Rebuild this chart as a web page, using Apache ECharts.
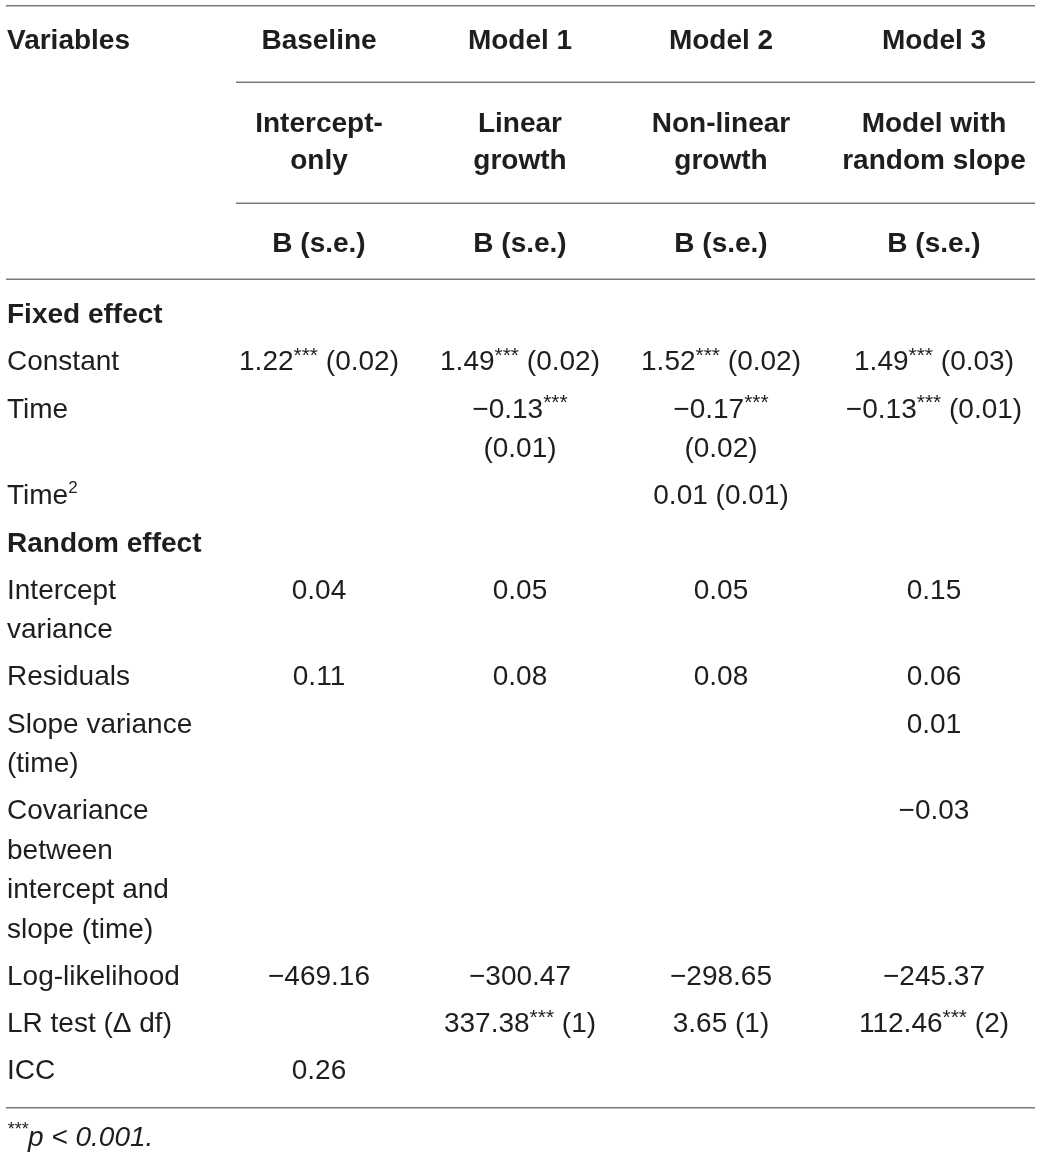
<!DOCTYPE html>
<html>

<head>
  <meta charset="utf-8">
  <title>ECharts</title>
  <script src="https://cdn.jsdelivr.net/npm/echarts@6/dist/echarts.min.js"></script>
  <style>
    html, body { margin: 0; padding: 0; background: #fff; }
  </style>
</head>

<body>
  <div id="main" style="width: 1040px;height:1156px;"></div>
  <script type="text/javascript">
    // table content
    var firstHeader = 'Variables';
    var models = ['Baseline', 'Model 1', 'Model 2', 'Model 3'];
    var modelTypes = ['Intercept-\nonly', 'Linear\ngrowth', 'Non-linear\ngrowth', 'Model with\nrandom slope'];
    var estimateHeader = 'B (s.e.)';
    var rowLabels = ['Fixed effect', 'Constant', 'Time', 'Time²', 'Random effect', 'Intercept\nvariance', 'Residuals',
      'Slope variance\n(time)', 'Covariance\nbetween\nintercept and\nslope (time)', 'Log-likelihood', 'LR test (Δ df)', 'ICC'];
    var sectionRows = ['Fixed effect', 'Random effect'];
    var baseline = ['', '1.22*** (0.02)', '', '', '', '0.04', '0.11', '', '', '−469.16', '', '0.26'];
    var model1 = ['', '1.49*** (0.02)', '−0.13***\n(0.01)', '', '', '0.05', '0.08', '', '', '−300.47', '337.38*** (1)', ''];
    var model2 = ['', '1.52*** (0.02)', '−0.17***\n(0.02)', '0.01 (0.01)', '', '0.05', '0.08', '', '', '−298.65', '3.65 (1)', ''];
    var model3 = ['', '1.49*** (0.03)', '−0.13*** (0.01)', '', '', '0.15', '0.06', '0.01', '−0.03', '−245.37', '112.46*** (2)', ''];
    var footnote = '***p < 0.001.';

    // layout
    var colX = [7, 319, 520, 721, 934];
    var headY = 41, typeY = 124, typeLineH = 37.5, estY = 244;
    var bodyTop = 315.5, lineH = 39.5, rowGap = 47.2;
    var footY = 1138;
    var rules = [[6, 1035, 5.7], [236, 1035, 82.3], [236, 1035, 203.3], [6, 1035, 279.3], [6, 1035, 1107.7]];

    var myChart = echarts.init(document.getElementById('main'));

    function richify(s) {
      return s.replace(/\*\*\*/g, '{ast|***}').replace(/²/g, '{sq|2}');
    }

    var textColor = '#1e1e1e';
    var font = 'Liberation Sans';
    var rich = {
      ast: { fontFamily: font, fontSize: 21, lineHeight: 32, verticalAlign: 'top', color: textColor },
      sq: { fontFamily: font, fontSize: 17, lineHeight: 27, verticalAlign: 'top', color: textColor },
      fast: { fontFamily: font, fontSize: 18, lineHeight: 24, verticalAlign: 'top', color: textColor }
    };

    // y of each body row from its line count
    var columns = [rowLabels, baseline, model1, model2, model3];
    var rowY = [];
    var y = bodyTop;
    for (var i = 0; i < rowLabels.length; i++) {
      rowY.push(y);
      var n = 1;
      for (var c = 0; c < columns.length; c++) {
        n = Math.max(n, columns[c][i].split('\n').length);
      }
      y += (n - 1) * lineH + rowGap;
    }

    function cellLines(text, x, y0, step, extra) {
      var out = [];
      if (!text) return out;
      text.split('\n').forEach(function(line, k) {
        var item = { name: line, value: [x, y0 + k * step] };
        if (extra) item.label = extra;
        out.push(item);
      });
      return out;
    }

    function textSeries(data, align, labelExtra) {
      var label = {
        show: true,
        position: 'inside',
        align: align,
        verticalAlign: 'middle',
        fontFamily: font,
        fontSize: 28,
        lineHeight: 34,
        color: textColor,
        opacity: 1,
        rich: rich,
        formatter: function(p) { return richify(p.name); }
      };
      for (var k in labelExtra) label[k] = labelExtra[k];
      return {
        type: 'scatter',
        symbolSize: 1,
        itemStyle: { color: 'rgba(0,0,0,0)', opacity: 1 },
        silent: true,
        data: data,
        label: label
      };
    }

    // header cells
    var headLeft = cellLines(firstHeader, colX[0], headY, 0);
    var headCenter = [];
    for (var m = 0; m < models.length; m++) {
      headCenter = headCenter.concat(cellLines(models[m], colX[m + 1], headY, 0));
      headCenter = headCenter.concat(cellLines(modelTypes[m], colX[m + 1], typeY, typeLineH));
      headCenter = headCenter.concat(cellLines(estimateHeader, colX[m + 1], estY, 0));
    }

    // body cells
    var labelData = [];
    for (var r = 0; r < rowLabels.length; r++) {
      var bold = sectionRows.indexOf(rowLabels[r]) >= 0 ? { fontWeight: 'bold' } : null;
      labelData = labelData.concat(cellLines(rowLabels[r], colX[0], rowY[r], lineH, bold));
    }
    var series = [
      textSeries(headLeft, 'left', { fontWeight: 'bold' }),
      textSeries(headCenter, 'center', { fontWeight: 'bold' }),
      textSeries(labelData, 'left', {})
    ];
    for (var c = 1; c < columns.length; c++) {
      var d = [];
      for (var r = 0; r < rowLabels.length; r++) {
        d = d.concat(cellLines(columns[c][r], colX[c], rowY[r], lineH));
      }
      series.push(textSeries(d, 'center', {}));
    }

    // footnote
    series.push(textSeries(cellLines(footnote, colX[0], footY, 0), 'left', {
      fontStyle: 'italic',
      formatter: function(p) { return p.name.replace(/\*\*\*/g, '{fast|***}'); }
    }));

    // horizontal rules
    rules.forEach(function(rl) {
      series.push({
        type: 'line',
        silent: true,
        showSymbol: false,
        symbol: 'none',
        data: [[rl[0], rl[2]], [rl[1], rl[2]]],
        lineStyle: { color: '#7a7a7a', width: 1.4 }
      });
    });

    var option = {
      animation: false,
      grid: { left: 0, right: 0, top: 0, bottom: 0 },
      xAxis: { type: 'value', min: 0, max: 1040, show: false },
      yAxis: { type: 'value', min: 0, max: 1156, inverse: true, show: false },
      series: series
    };

    myChart.setOption(option);
  </script>
</body>

</html>
